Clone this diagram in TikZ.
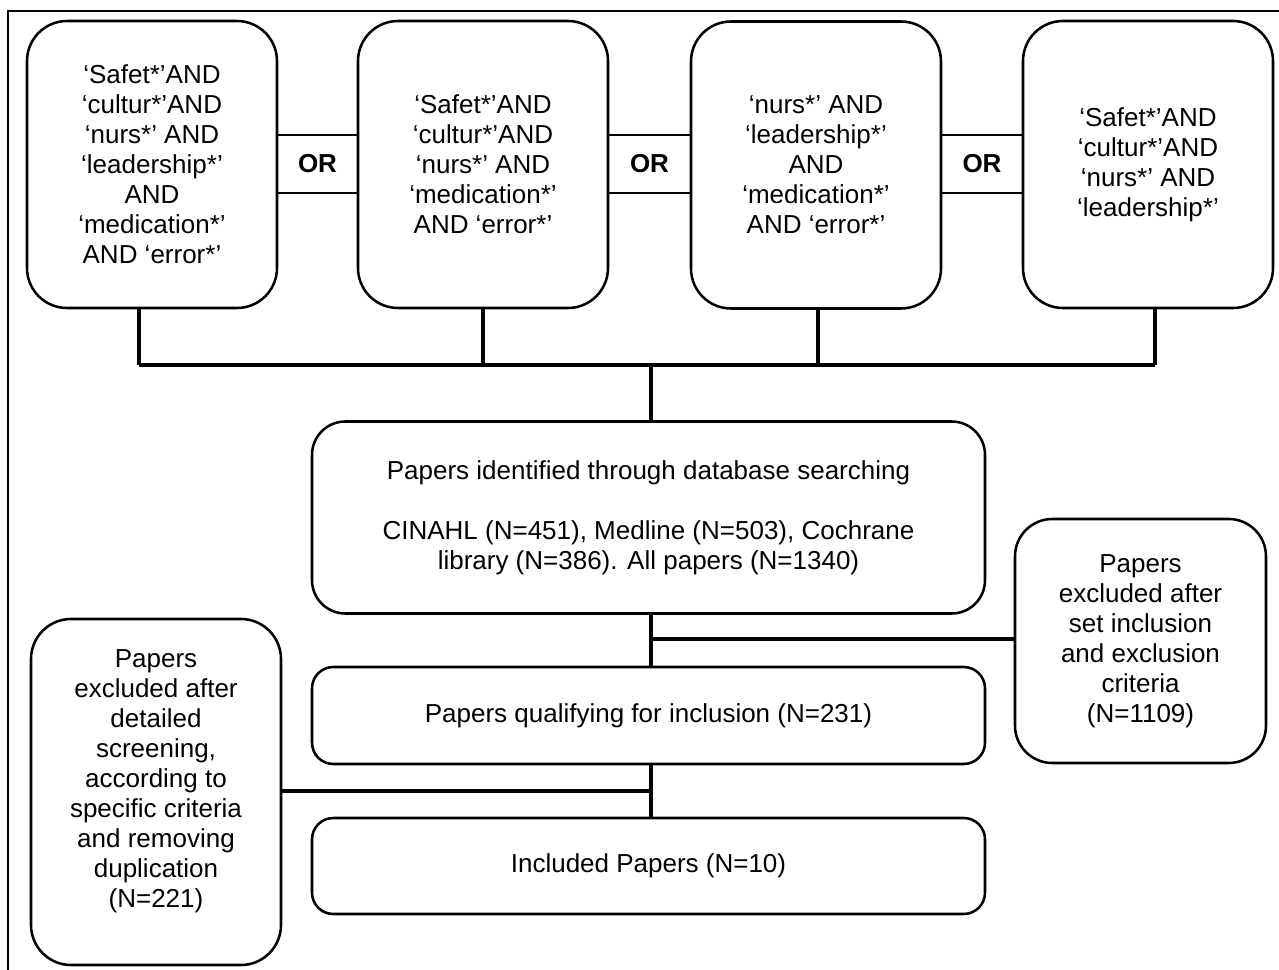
\documentclass[tikz,border=0pt]{standalone}
\usepackage{fontspec}
\setmainfont{Liberation Sans}
\usetikzlibrary{calc}
\begin{document}
\begin{tikzpicture}[x=0.75pt,y=-0.75pt,
  txt/.style={font=\fontsize{19.5}{22.5}\selectfont, align=center},
  topbox/.style={txt, draw, line width=1.9pt, fill=white, rounded corners=30pt,
    minimum width=187.5pt, minimum height=215.25pt, inner sep=0pt},
  orbox/.style={draw, line width=1.5pt, fill=white, minimum height=43.5pt, inner sep=0pt,
    font=\fontsize{19.5}{22.5}\selectfont\bfseries},
  widebox/.style={txt, draw, line width=1.9pt, fill=white,
    minimum width=504.75pt, inner sep=0pt},
  sidebox/.style={txt, draw, line width=1.9pt, fill=white, rounded corners=28pt,
    minimum width=187.5pt, inner sep=0pt},
  conn/.style={line width=3pt},
  frame/.style={line width=1.5pt}]
\useasboundingbox (0,0) rectangle (1279,970);
\draw[frame] (8,990) -- (8,11) -- (1300,11);

% OR boxes (behind the query boxes)
\node[orbox, minimum width=60.75pt] (or1) at (317.5,164) {OR};
\node[orbox, minimum width=62.25pt] (or2) at (649.5,164) {OR};
\node[orbox, minimum width=61.5pt] (or3) at (982,164) {OR};

% query boxes
\node[topbox] (q1) at (152,164.5) {‘Safet*’AND\\‘cultur*’AND\\‘nurs*’ AND\\‘leadership*’\\AND\\‘medication*’\\AND ‘error*’};
\node[topbox] (q2) at (483,164.5) {‘Safet*’AND\\‘cultur*’AND\\‘nurs*’ AND\\‘medication*’\\AND ‘error*’};
\node[topbox] (q3) at (816,165) {‘nurs*’ AND\\‘leadership*’\\AND\\‘medication*’\\AND ‘error*’};
\node[topbox] (q4) at (1148,164.5) {‘Safet*’AND\\‘cultur*’AND\\‘nurs*’ AND\\‘leadership*’};

% flow boxes
\node[widebox, rounded corners=25pt, minimum height=144pt] (ident) at (648.5,517.5)
  {Papers identified through database searching\\[22.5pt]CINAHL (N=451), Medline (N=503), Cochrane\\library (N=386). All papers (N=1340)};
\node[widebox, rounded corners=16pt, minimum height=72.75pt] (qual) at (648.5,715.5)
  {Papers qualifying for inclusion (N=231)};
\node[widebox, rounded corners=16pt, minimum height=72pt] (incl) at (648.5,866)
  {Included Papers (N=10)};

% side boxes
\node[sidebox, minimum width=188.25pt, minimum height=183pt] (excl1) at (1140.5,641)
  {Papers\\excluded after\\set inclusion\\and exclusion\\criteria\\(N=1109)};
\node[sidebox, rounded corners=30pt, minimum height=259.5pt] (excl2) at (156,792) {};
\node[txt] (excl2t) at (156,781.5)
  {Papers\\excluded after\\detailed\\screening,\\according to\\specific criteria\\and removing\\duplication\\(N=221)};

% connectors
\coordinate (bus) at (651,365);
\coordinate (busL) at (139,365);
\coordinate (busR) at (1155,365);
\draw[conn] ($(q1.south)+(-13,0)$) -- (busL);
\draw[conn] (q2.south) -- (q2.south |- bus);
\draw[conn] ($(q3.south)+(2,0)$) -- ($(q3.south |- bus)+(2,0)$);
\draw[conn] ($(q4.south)+(7,0)$) -- (busR);
\draw[conn] (busL) -- (busR);
\draw[conn] (bus) -- (bus |- ident.north);

\draw[conn] (ident.south -| bus) -- (qual.north -| bus);
\coordinate (br1) at (651,639);
\draw[conn] (br1) -- (br1 -| excl1.west);
\draw[conn] (qual.south -| bus) -- (incl.north -| bus);
\coordinate (br2) at (651,791);
\draw[conn] (br2) -- (br2 -| excl2.east);
\end{tikzpicture}
\end{document}
